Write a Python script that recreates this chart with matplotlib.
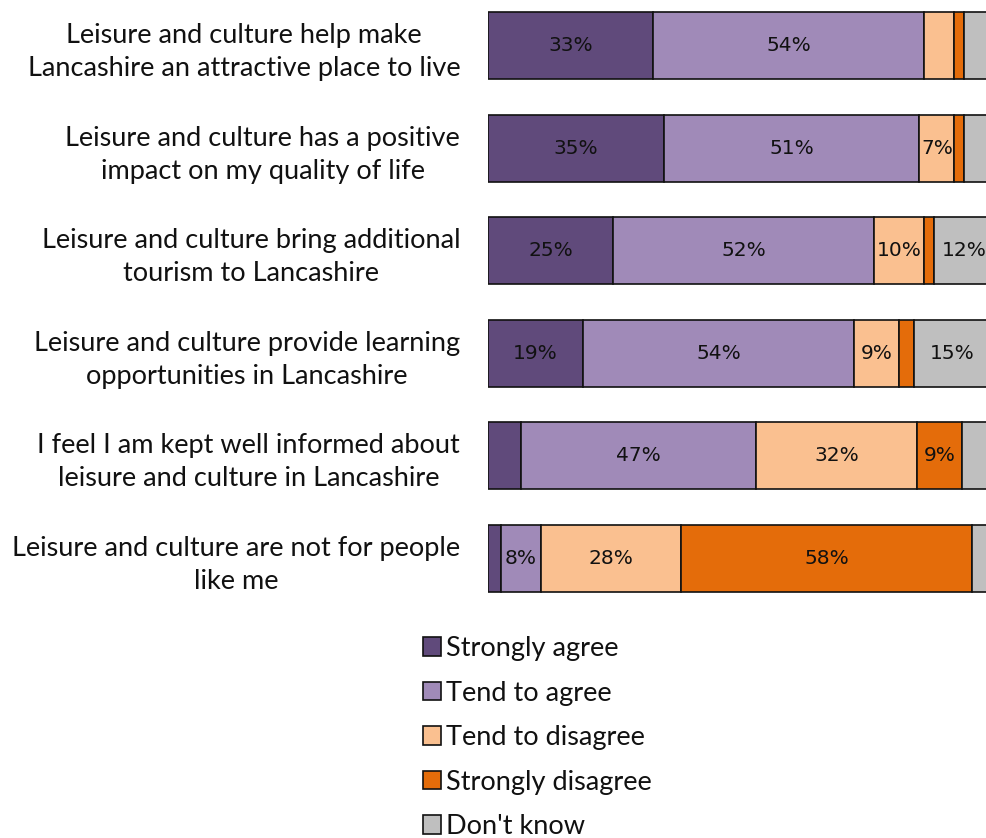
import matplotlib
matplotlib.use("Agg")
import matplotlib.pyplot as plt
from matplotlib.patches import Patch

# Survey statements (top to bottom) and response shares in percent
statements = [
    "Leisure and culture help make\nLancashire an attractive place to live",
    "Leisure and culture has a positive\nimpact on my quality of life",
    "Leisure and culture bring additional\ntourism to Lancashire",
    "Leisure and culture provide learning\nopportunities in Lancashire",
    "I feel I am kept well informed about\nleisure and culture in Lancashire",
    "Leisure and culture are not for people\nlike me",
]
strongly_agree = [33, 35, 25, 19, 6.5, 2.5]
tend_to_agree = [54, 51, 52, 54, 47, 8]
tend_to_disagree = [6, 7, 10, 9, 32, 28]
strongly_disagree = [2, 2, 2, 3, 9, 58]
dont_know = [5, 5, 12, 15, 6, 4]

series_names = ["Strongly agree", "Tend to agree", "Tend to disagree",
                "Strongly disagree", "Don't know"]
series_values = [strongly_agree, tend_to_agree, tend_to_disagree,
                 strongly_disagree, dont_know]
colors = ["#604A7B", "#A08AB8", "#FAC090", "#E46C0A", "#BFBFBF"]

W, H = 986, 838
fig = plt.figure(figsize=(W / 100, H / 100), dpi=100)

# Axes placed in pixel terms; the 100% end sits just past the right edge
left_px, width_px = 488, 501.5
top_px, bottom_px = 0, 610
ax = fig.add_axes([left_px / W, 1 - bottom_px / H, width_px / W, (bottom_px - top_px) / H])

pitch = 102.6
first_center = 45.5
ax.set_xlim(0, 100)
ax.set_ylim((bottom_px - first_center) / pitch, -first_center / pitch)

ypos = list(range(len(statements)))
bar_h = 0.653
lefts = [0.0] * len(statements)
for name, vals, col in zip(series_names, series_values, colors):
    ax.barh(ypos, vals, left=lefts, height=bar_h, color=col,
            edgecolor="#111111", linewidth=1.2, label=name)
    for y, l, v in zip(ypos, lefts, vals):
        if v >= 7:
            ax.text(l + v / 2, y, f"{v:.0f}%", ha="center", va="center",
                    fontsize=14.5, color="#111111", family="DejaVu Sans")
    lefts = [l + v for l, v in zip(lefts, vals)]

ax.set_yticks(ypos)
ax.set_yticklabels(statements, fontsize=19.5, family="Lato", color="#111111")
for t in ax.get_yticklabels():
    t.set_multialignment("center")
    t.set_linespacing(1.4)
ax.tick_params(axis="y", length=0, pad=20)
ax.set_xticks([])
for s in ax.spines.values():
    s.set_visible(False)

handles = [Patch(facecolor=c, edgecolor="#111111", linewidth=1.2, label=n)
           for n, c in zip(series_names, colors)]
leg = fig.legend(handles=handles, loc="upper left",
                 bbox_to_anchor=(423 / W, 1 - 636 / H), frameon=False,
                 prop={"family": "Lato", "size": 19.5},
                 handlelength=0.66, handleheight=0.66, handletextpad=0.2,
                 labelspacing=0.72, borderpad=0, borderaxespad=0)
for t in leg.get_texts():
    t.set_color("#111111")

fig.savefig("out.png", dpi=100)
